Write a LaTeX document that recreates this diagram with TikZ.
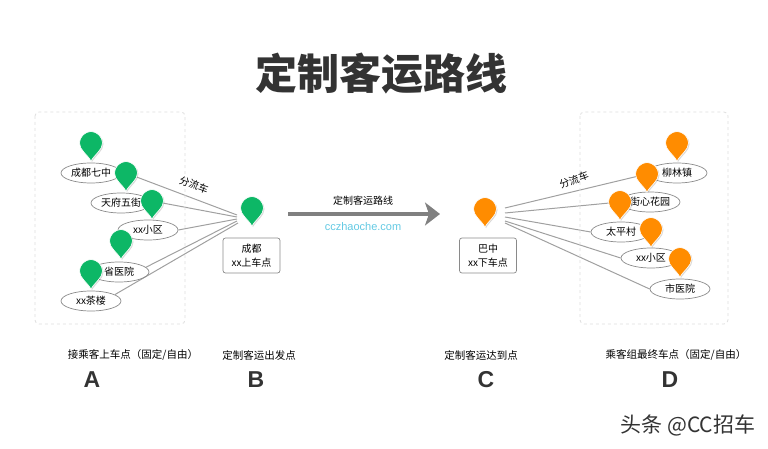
\documentclass[tikz,border=0pt]{standalone}
\usepackage{fontspec}
\setmainfont{Noto Sans CJK SC}
\newfontfamily\latinfont{Liberation Sans}
\usepackage{tikz}
\usetikzlibrary{arrows.meta, shapes.geometric, shadows}

\definecolor{pingreen}{HTML}{0DB766}
\definecolor{pinorange}{HTML}{FF8C00}
\definecolor{linkgray}{HTML}{A0A0A0}
\definecolor{edgegray}{HTML}{8A8A8A}
\definecolor{framegray}{HTML}{DEDEDE}
\definecolor{inkgray}{HTML}{333333}
\definecolor{sitecyan}{HTML}{62C9E3}

\pgfdeclarelayer{links}
\pgfsetlayers{links,main}

\tikzset{
  stopname/.style={draw=edgegray, line width=0.7pt, ellipse, minimum width=60pt, minimum height=20pt, inner sep=0pt, font=\fontsize{10}{12}\selectfont},
  endbox/.style={draw=edgegray, line width=0.7pt, rounded corners=2.5pt, minimum width=57pt, minimum height=35pt, inner sep=0pt, align=center, font=\fontsize{10}{14}\selectfont},
  caption/.style={font=\fontsize{10.5}{12}\selectfont, inner sep=0pt},
  bigletter/.style={font=\latinfont\bfseries\fontsize{23}{24}\selectfont, text=inkgray, inner sep=0pt},
  link/.style={draw=linkgray, line width=1pt},
  zone/.style={draw=framegray, dashed, line width=0.8pt, rounded corners=4pt},
  pics/mappin/.style={code={
    \path[fill=#1, draw=white, line width=0.6pt, drop shadow={shadow xshift=1pt, shadow yshift=-1pt, opacity=0.3}]
      (0,0) .. controls (-4,-7) and (-11.5,-11) .. (-11.5,-18)
      .. controls (-11.5,-24) and (-6,-29.5) .. (0,-29.5)
      .. controls (6,-29.5) and (11.5,-24) .. (11.5,-18)
      .. controls (11.5,-11) and (4,-7) .. (0,0) -- cycle;
    \coordinate (-head) at (0,-18);
  }}
}

\begin{document}
\begin{tikzpicture}[x=1pt, y=-1pt]
  \useasboundingbox (0,0) rectangle (768,449);

  % Title
  \node[font=\bfseries\fontsize{42}{44}\selectfont, text=inkgray, inner sep=0pt] (title) at (381,74) {定制客运路线};

  % -------------------------
  % LEFT: pick-up stops
  % -------------------------
  \draw[zone] (35,112) rectangle (185,324);

  \node[stopname] (qizhong) at (91,173) {成都七中};
  \node[stopname] (wujie) at (121,203) {天府五街};
  \node[stopname] (xiaoquA) at (148,230) {xx小区};
  \node[stopname] (shengyi) at (119,272) {省医院};
  \node[stopname] (chalou) at (91,301) {xx茶楼};

  \pic (pinA) at (91,161) {mappin=pingreen};
  \pic (pinB) at (126,191) {mappin=pingreen};
  \pic (pinC) at (152,219) {mappin=pingreen};
  \pic (pinD) at (121,259) {mappin=pingreen};
  \pic (pinE) at (91,289) {mappin=pingreen};

  % Departure point
  \pic (pinStart) at (252,226) {mappin=pingreen};
  \node[endbox] (chengdu) at (251.5,255.5) {成都\\xx上车点};

  \coordinate (hubA) at (237,215);
  \coordinate (hubB) at (237,217);
  \coordinate (hubC) at (237,219);
  \coordinate (hubD) at (237,221);
  \coordinate (hubE) at (238,223);

  \begin{pgfonlayer}{links}
    \draw[link] (pinB-head) -- (hubA);
    \draw[link] (pinC-head) -- (hubB);
    \draw[link] (xiaoquA.east) -- (hubC);
    \draw[link] (shengyi.10) -- (hubD);
    \draw[link] (chalou.15) -- (hubE);
  \end{pgfonlayer}

  \node[font=\fontsize{10}{12}\selectfont, inner sep=0pt, rotate=-20] (splitA) at (194,185) {分流车};

  % -------------------------
  % MIDDLE: main route
  % -------------------------
  \coordinate (routeStart) at (288,214);
  \coordinate (routeEnd) at (440,214);
  \draw[-{Stealth[length=15pt, width=23pt, inset=4pt]}, line width=4.5pt, draw=gray] (routeStart) -- (routeEnd);
  \node[font=\fontsize{10}{12}\selectfont, inner sep=0pt] (routeName) at (363,201) {定制客运路线};
  \node[font=\latinfont\fontsize{11}{12}\selectfont, text=sitecyan, inner sep=0pt] (site) at (363,227) {cczhaoche.com};

  % -------------------------
  % RIGHT: drop-off stops
  % -------------------------
  \draw[zone] (580,112) rectangle (728,324);

  \node[stopname] (liulin) at (677,173) {柳林镇};
  \node[stopname] (jiexin) at (650,202) {街心花园};
  \node[stopname] (taiping) at (621,232) {太平村};
  \node[stopname] (xiaoquB) at (651,258) {xx小区};
  \node[stopname] (shiyi) at (680,289) {市医院};

  \pic (pinF) at (677,161) {mappin=pinorange};
  \pic (pinG) at (647,192) {mappin=pinorange};
  \pic (pinH) at (620,220) {mappin=pinorange};
  \pic (pinI) at (651,247) {mappin=pinorange};
  \pic (pinJ) at (680,277) {mappin=pinorange};

  % Arrival point
  \pic (pinEnd) at (485,227) {mappin=pinorange};
  \node[endbox] (bazhong) at (488,255.5) {巴中\\xx下车点};

  \coordinate (hubF) at (505,208);
  \coordinate (hubG) at (505,213);
  \coordinate (hubH) at (505,217);
  \coordinate (hubI) at (505,221);
  \coordinate (hubJ) at (505,223);

  \begin{pgfonlayer}{links}
    \draw[link] (hubF) -- (pinG-head);
    \draw[link] (hubG) -- (pinH-head);
    \draw[link] (hubH) -- (taiping.west);
    \draw[link] (hubI) -- (xiaoquB.west);
    \draw[link] (hubJ) -- (shiyi.west);
  \end{pgfonlayer}

  \node[font=\fontsize{10}{12}\selectfont, inner sep=0pt, rotate=20] (splitB) at (574,180) {分流车};

  % Captions
  \node[caption] (capA) at (133,355) {接乘客上车点（固定/自由）};
  \node[caption] (capB) at (259,355) {定制客运出发点};
  \node[caption] (capC) at (481,355) {定制客运达到点};
  \node[caption] (capD) at (676,355) {乘客组最终车点（固定/自由）};

  \node[bigletter] (letterA) at (92,380) {A};
  \node[bigletter] (letterB) at (256,380) {B};
  \node[bigletter] (letterC) at (486,380) {C};
  \node[bigletter] (letterD) at (670,380) {D};

  % Watermark
  \node[font=\fontsize{21}{22}\selectfont, text=inkgray, inner sep=0pt] (mark) at (688,425) {头条 @CC招车};
\end{tikzpicture}
\end{document}
